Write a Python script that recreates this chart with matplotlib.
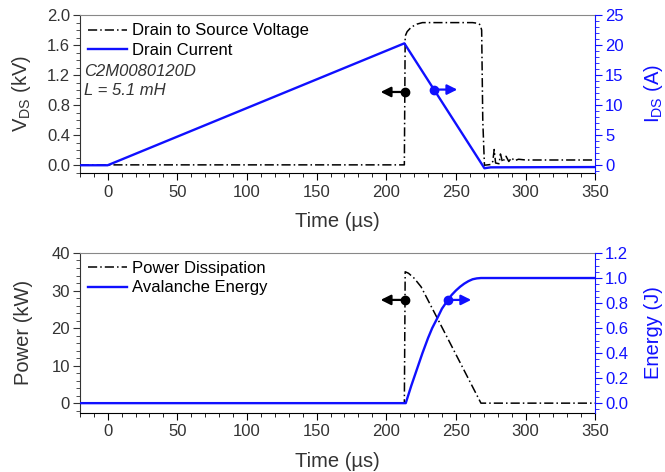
import matplotlib
matplotlib.use('Agg')
import matplotlib.pyplot as plt
from matplotlib.ticker import MultipleLocator

plt.rcParams['font.family'] = ['Liberation Sans', 'DejaVu Sans']
plt.rcParams['mathtext.fontset'] = 'custom'
plt.rcParams['mathtext.rm'] = 'Liberation Sans'
plt.rcParams['mathtext.it'] = 'Liberation Sans:italic'

BLUE = '#1010ff'
GREY = '#333333'

# ---- data ----
t_vds = [-20, 213, 213.6, 215, 218, 222, 226, 240, 262, 266, 267.5, 268.5, 269.3, 270.5,
         275, 276.5, 277.5, 278.5, 281, 282, 283.5, 286, 288, 290, 292, 295, 300, 350]
vds_kv = [0.005, 0.005, 1.72, 1.78, 1.84, 1.88, 1.90, 1.90, 1.90, 1.89, 1.87, 1.80, 0.6, 0.0,
          0.01, 0.05, 0.21, 0.03, 0.02, 0.15, 0.04, 0.12, 0.05, 0.10, 0.06, 0.08, 0.07, 0.07]

t_ids = [-20, 0, 213, 270.5, 275, 350]
ids_a = [0, 0, 20.3, -0.5, -0.35, -0.3]

t_pwr = [-20, 213, 213.6, 216, 220, 225, 236.7, 268, 270, 350]
pwr_kw = [0, 0, 35, 34.6, 33.3, 31, 22.6, 0, 0, 0]

t_en = [-20, 214, 216, 218, 222, 226, 230, 233, 236.7, 240, 244, 247, 250, 253, 256,
        259, 262, 265, 268, 350]
energy_j = [0, 0, 0.07, 0.14, 0.27, 0.40, 0.52, 0.60, 0.68, 0.755, 0.82, 0.865, 0.90,
            0.93, 0.955, 0.975, 0.99, 0.997, 1.0, 1.0]

xticks = [0, 50, 100, 150, 200, 250, 300, 350]

fig = plt.figure(figsize=(6.65, 4.72), dpi=100)
ax1 = fig.add_axes([0.120, 0.634, 0.775, 0.334])
ax3 = fig.add_axes([0.120, 0.126, 0.775, 0.338])

TICK_FS = 12
LAB_FS = 14.5
LEG_FS = 12


def style_axes(ax, axr):
    ax.set_xlim(-20, 350)
    ax.set_xticks(xticks)
    ax.xaxis.set_minor_locator(MultipleLocator(10))
    ax.tick_params(which='both', direction='out', labelsize=TICK_FS)
    ax.tick_params(axis='x', which='major', length=5, colors='black', labelcolor=GREY)
    ax.tick_params(axis='x', which='minor', length=3)
    ax.tick_params(axis='y', which='major', length=5, colors=GREY, pad=2)
    ax.tick_params(axis='y', which='minor', length=3, colors=GREY)
    ax.spines['top'].set_color('#888888')
    ax.spines['left'].set_color(GREY)
    ax.spines['right'].set_visible(False)
    axr.spines['right'].set_color(BLUE)
    axr.spines['top'].set_visible(False)
    axr.spines['left'].set_visible(False)
    axr.spines['bottom'].set_visible(False)
    axr.tick_params(which='both', direction='out', colors=BLUE, labelsize=TICK_FS, pad=2)
    axr.tick_params(which='major', length=5)
    axr.tick_params(which='minor', length=3)
    ax.set_xlabel('Time (µs)', fontsize=LAB_FS, color=GREY, labelpad=9)


def add_legend(ax, handles, labels):
    ax.legend(handles, labels, loc='upper left', frameon=False, fontsize=LEG_FS,
              handlelength=2.35, borderaxespad=0.4, labelspacing=0.25,
              handletextpad=0.3, borderpad=0.1)


# ---- top panel ----
ax2 = ax1.twinx()
style_axes(ax1, ax2)
l1, = ax1.plot(t_vds, vds_kv, color='black', lw=1.1, ls=(0, (6, 2, 1, 2)))
l2, = ax2.plot(t_ids, ids_a, color=BLUE, lw=1.7)
ax1.set_ylim(-0.1, 2.0)
ax1.set_yticks([0.0, 0.4, 0.8, 1.2, 1.6, 2.0])
ax1.yaxis.set_minor_locator(MultipleLocator(0.1))
ax1.set_yticklabels(['0.0', '0.4', '0.8', '1.2', '1.6', '2.0'])
ax2.set_ylim(-1.25, 25)
ax2.set_yticks([0, 5, 10, 15, 20, 25])
ax2.yaxis.set_minor_locator(MultipleLocator(1))
ax1.set_ylabel(r'V$_{\rm DS}$ (kV)', fontsize=LAB_FS, color=GREY)
ax1.yaxis.set_label_coords(-0.09, 0.5)
ax2.set_ylabel(r'I$_{\rm DS}$ (A)', fontsize=LAB_FS, color=BLUE, rotation=90)
ax2.yaxis.set_label_coords(1.09, 0.5)
add_legend(ax1, [l1, l2], ['Drain to Source Voltage', 'Drain Current'])
ax1.text(-17, 1.25, 'C2M0080120D', fontsize=LEG_FS, style='italic', color=GREY, va='center')
ax1.text(-17, 0.99, 'L = 5.1 mH', fontsize=LEG_FS, style='italic', color=GREY, va='center')

# direction markers
ax2.annotate('', xy=(194, 12.2), xytext=(213.6, 12.2),
             arrowprops=dict(arrowstyle='-|>', color='black', lw=1.6, mutation_scale=15))
ax2.plot([213.6], [12.2], 'o', color='black', ms=6)
ax2.annotate('', xy=(253, 12.6), xytext=(234.5, 12.6),
             arrowprops=dict(arrowstyle='-|>', color=BLUE, lw=1.6, mutation_scale=15))
ax2.plot([234.5], [12.6], 'o', color=BLUE, ms=6)

# ---- bottom panel ----
ax4 = ax3.twinx()
style_axes(ax3, ax4)
l3, = ax3.plot(t_pwr, pwr_kw, color='black', lw=1.1, ls=(0, (6, 2, 1, 2)))
l4, = ax4.plot(t_en, energy_j, color=BLUE, lw=1.7)
ax3.set_ylim(-2.5, 40)
ax3.set_yticks([0, 10, 20, 30, 40])
ax3.yaxis.set_minor_locator(MultipleLocator(2))
ax4.set_ylim(-0.075, 1.2)
ax4.set_yticks([0.0, 0.2, 0.4, 0.6, 0.8, 1.0, 1.2])
ax4.set_yticklabels(['0.0', '0.2', '0.4', '0.6', '0.8', '1.0', '1.2'])
ax4.yaxis.set_minor_locator(MultipleLocator(0.05))
ax3.set_ylabel('Power (kW)', fontsize=LAB_FS, color=GREY)
ax3.yaxis.set_label_coords(-0.09, 0.5)
ax4.set_ylabel('Energy (J)', fontsize=LAB_FS, color=BLUE, rotation=90)
ax4.yaxis.set_label_coords(1.095, 0.5)
add_legend(ax3, [l3, l4], ['Power Dissipation', 'Avalanche Energy'])

ax4.annotate('', xy=(194, 0.825), xytext=(213.6, 0.825),
             arrowprops=dict(arrowstyle='-|>', color='black', lw=1.6, mutation_scale=15))
ax4.plot([213.6], [0.825], 'o', color='black', ms=6)
ax4.annotate('', xy=(263, 0.825), xytext=(244, 0.825),
             arrowprops=dict(arrowstyle='-|>', color=BLUE, lw=1.6, mutation_scale=15))
ax4.plot([244], [0.825], 'o', color=BLUE, ms=6)

fig.savefig('out.png', dpi=100)
